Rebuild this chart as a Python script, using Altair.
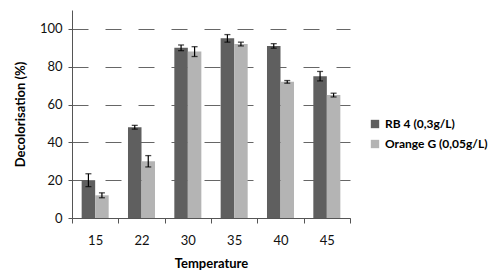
import altair as alt
import pandas as pd

temps = ["15", "22", "30", "35", "40", "45"]
series = ["RB 4 (0,3g/L)", "Orange G (0,05g/L)"]
rb4 = [20, 48, 90, 95, 91, 75]
rb4_err = [3.4, 1.0, 1.5, 2.0, 1.2, 2.5]
og = [12, 30, 88, 92, 72, 65]
og_err = [1.3, 3.0, 2.6, 1.0, 0.7, 1.0]
colors = ["#5f5f5f", "#b4b4b4"]

rows = []
for t, v, e in zip(temps, rb4, rb4_err):
    rows.append({"temp": t, "series": series[0], "value": v, "err": e})
for t, v, e in zip(temps, og, og_err):
    rows.append({"temp": t, "series": series[1], "value": v, "err": e})
df = pd.DataFrame(rows)

FONT = "Lato"

x = alt.X("temp:N", sort=temps, title="Temperature",
          scale=alt.Scale(paddingInner=0, paddingOuter=0),
          axis=alt.Axis(labelAngle=0, tickBand="extent", tickSize=5,
                        labelPadding=11, titlePadding=10,
                        domainColor="#555", tickColor="#555"))
xo = alt.XOffset("series:N", sort=series,
                 scale=alt.Scale(paddingInner=0, paddingOuter=0.715))
y = alt.Y("value:Q", title="Decolorisation (%)",
          scale=alt.Scale(domain=[0, 110], nice=False),
          axis=alt.Axis(values=[0, 20, 40, 60, 80, 100], tickSize=4,
                        grid=True, gridDash=[16, 17], gridColor="#666",
                        domainColor="#555", tickColor="#555",
                        labelPadding=6, titlePadding=12))

base = alt.Chart(df)

bars = base.mark_bar().encode(
    x=x, xOffset=xo, y=y,
    color=alt.Color("series:N", sort=series,
                    scale=alt.Scale(domain=series, range=colors),
                    legend=alt.Legend(title=None, orient="none",
                                      legendX=297, legendY=108,
                                      symbolType="square", symbolSize=70,
                                      symbolStrokeWidth=0, labelFontWeight="bold",
                                      labelFontSize=12, rowPadding=8,
                                      labelOffset=4)),
)

err = base.transform_calculate(
    lo="datum.value - datum.err", hi="datum.value + datum.err"
)
rules = err.mark_rule(color="black", strokeWidth=1.2).encode(
    x=alt.X("temp:N", sort=temps), xOffset=xo,
    y=alt.Y("lo:Q"), y2="hi:Q")
tick_lo = err.mark_tick(color="black", size=6, thickness=1.3, orient="horizontal").encode(
    x=alt.X("temp:N", sort=temps), xOffset=xo, y=alt.Y("lo:Q"))
tick_hi = err.mark_tick(color="black", size=6, thickness=1.3, orient="horizontal").encode(
    x=alt.X("temp:N", sort=temps), xOffset=xo, y=alt.Y("hi:Q"))

chart = alt.layer(bars, rules, tick_lo, tick_hi).properties(
    width=278, height=208,
    autosize=alt.AutoSizeParams(type="none"),
    padding={"left": 64, "top": 2, "right": 142, "bottom": 54},
).configure_view(stroke=None).configure_axis(
    labelFont=FONT, titleFont=FONT, labelFontSize=13, titleFontSize=13,
    titleFontWeight="bold", labelColor="#111", titleColor="#000",
).configure_legend(labelFont=FONT, labelColor="#000")

chart.save("out.html", embed_options={"renderer": "svg", "actions": False})
